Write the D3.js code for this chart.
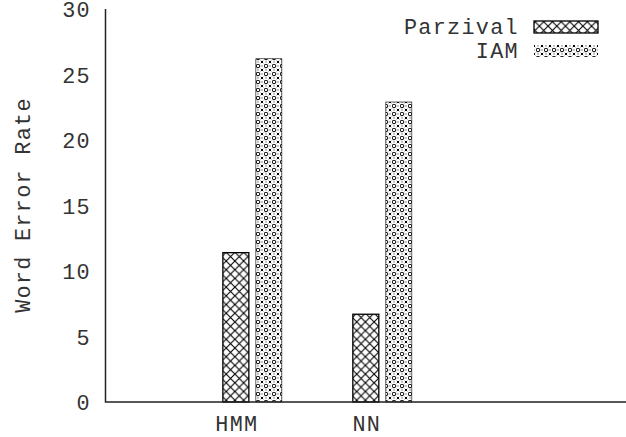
<!DOCTYPE html>
<html>
<head>
<meta charset="utf-8">
<script src="https://cdn.jsdelivr.net/npm/d3@7"></script>
<style>
  body { margin: 0; background: #fff; }
  text { font-family: "Courier New", "Liberation Mono", monospace; fill: #333; letter-spacing: 1.3px; }
</style>
</head>
<body>
<div id="chart"></div>
<script>
// Daten
const categories = ["HMM", "NN"];
const seriesNames = ["Parzival", "IAM"];
const parzival = [11.4, 6.7];
const iam = [26.2, 22.9];
const yTicks = [0, 5, 10, 15, 20, 25, 30];

const width = 626, height = 437;
const fontSize = 21.8;

const svg = d3.select('#chart')
    .append('svg')
    .attr('width', width)
    .attr('height', height);

// Muster (Schraffuren) wie bei gnuplot
const defs = svg.append('defs');

const cross = defs.append('pattern')
    .attr('id', 'pat-cross')
    .attr('patternUnits', 'userSpaceOnUse')
    .attr('width', 8.7).attr('height', 8.7);
cross.append('rect').attr('width', 8.7).attr('height', 8.7).attr('fill', '#fff');
cross.append('path')
    .attr('d', 'M0,0L8.7,8.7M8.7,0L0,8.7')
    .attr('stroke', '#000').attr('stroke-width', 1.1);

const dots = defs.append('pattern')
    .attr('id', 'pat-dots')
    .attr('patternUnits', 'userSpaceOnUse')
    .attr('width', 8).attr('height', 8);
dots.append('rect').attr('width', 8).attr('height', 8).attr('fill', '#fff');
dots.append('circle').attr('cx', 2).attr('cy', 2).attr('r', 1.8)
    .attr('fill', 'none').attr('stroke', '#000').attr('stroke-width', 1);
dots.append('path')
    .attr('d', 'M4.8,4.8L7.2,7.2M7.2,4.8L4.8,7.2')
    .attr('stroke', '#000').attr('stroke-width', 1);
dots.append('rect').attr('x', 5.5).attr('y', 1.5).attr('width', 1).attr('height', 1).attr('fill', '#222');
dots.append('rect').attr('x', 1.5).attr('y', 5.5).attr('width', 1).attr('height', 1).attr('fill', '#222');

const fills = ['url(#pat-cross)', 'url(#pat-dots)'];

// Skalen
const plotLeft = 105.5, plotRight = 626, plotTop = 9, plotBottom = 402;
const y = d3.scaleLinear().domain([0, 30]).range([plotBottom, plotTop]);
// x in "Cluster"-Einheiten
const x = d3.scaleLinear().domain([-1.13, 2.875]).range([plotLeft, plotRight]);
const barW = 26, gap = 7;

const rows = categories.map((c, i) => ({ category: c, values: [parzival[i], iam[i]] }));

// Balken
rows.forEach((row, i) => {
    row.values.forEach((v, s) => {
        const cx = x(i);
        const x0 = s === 0 ? cx - gap / 2 - barW : cx + gap / 2;
        svg.append('rect')
            .attr('x', x0).attr('y', y(v))
            .attr('width', barW).attr('height', y(0) - y(v))
            .attr('fill', fills[s])
            .attr('stroke', '#000').attr('stroke-width', s === 0 ? 1.3 : 0.6);
    });
});

// Achsenlinien
svg.append('path')
    .attr('d', `M${plotLeft},${plotTop}V${plotBottom}H${plotRight}`)
    .attr('fill', 'none').attr('stroke', '#222').attr('stroke-width', 1.5);

// Y-Beschriftung
svg.selectAll('.ytick')
    .data(yTicks)
    .enter()
    .append('text')
    .attr('class', 'ytick')
    .attr('x', 91)
    .attr('y', d => y(d) + 8)
    .attr('text-anchor', 'end')
    .style('font-size', fontSize + 'px')
    .text(d => d);

// X-Beschriftung (unter dem ersten Balken jeder Gruppe)
svg.selectAll('.xtick')
    .data(categories)
    .enter()
    .append('text')
    .attr('class', 'xtick')
    .attr('x', (d, i) => x(i) - gap / 2 - barW / 2 + 1)
    .attr('y', 431)
    .attr('text-anchor', 'middle')
    .style('font-size', fontSize + 'px')
    .text(d => d);

// Achsentitel
svg.append('text')
    .attr('transform', 'translate(30,205) rotate(-90)')
    .attr('text-anchor', 'middle')
    .style('font-size', fontSize + 'px')
    .text('Word Error Rate');

// Legende
seriesNames.forEach((name, s) => {
    const ly = 27 + s * 24;
    svg.append('text')
        .attr('x', 519).attr('y', ly + 7)
        .attr('text-anchor', 'end')
        .style('font-size', fontSize + 'px')
        .text(name);
    svg.append('rect')
        .attr('x', 534).attr('y', ly - 6)
        .attr('width', 64).attr('height', 12)
        .attr('fill', fills[s])
        .attr('stroke', '#000').attr('stroke-width', s === 0 ? 1.3 : 0);
});
</script>
</body>
</html>
